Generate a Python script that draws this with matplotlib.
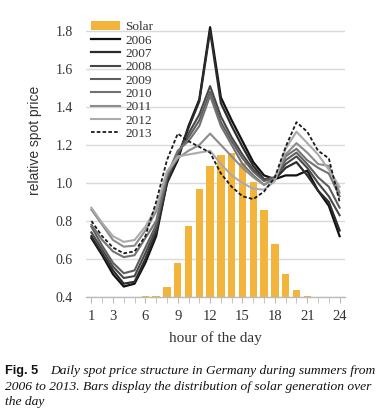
import matplotlib
matplotlib.use("Agg")
import matplotlib.pyplot as plt
from matplotlib.lines import Line2D
from matplotlib.patches import Patch

hours = list(range(1, 25))
base = 0.4
solar = [0.4, 0.4, 0.4, 0.4, 0.4, 0.403, 0.407, 0.454, 0.577, 0.775, 0.967, 1.089,
         1.147, 1.156, 1.107, 1.004, 0.858, 0.677, 0.521, 0.437, 0.403, 0.402, 0.401, 0.4]

p2006 = [0.71, 0.62, 0.52, 0.455, 0.47, 0.58, 0.72, 1.00, 1.12, 1.30, 1.44, 1.82,
         1.45, 1.33, 1.22, 1.11, 1.04, 1.02, 1.04, 1.04, 1.065, 0.96, 0.88, 0.72]
p2007 = [0.72, 0.63, 0.54, 0.47, 0.48, 0.60, 0.74, 1.00, 1.14, 1.29, 1.43, 1.80,
         1.42, 1.30, 1.19, 1.09, 1.02, 1.02, 1.08, 1.11, 1.04, 0.96, 0.90, 0.75]
p2008 = [0.74, 0.65, 0.56, 0.50, 0.51, 0.63, 0.76, 1.02, 1.15, 1.26, 1.36, 1.51,
         1.35, 1.24, 1.15, 1.07, 1.02, 1.03, 1.10, 1.14, 1.08, 1.00, 0.93, 0.83]
p2009 = [0.77, 0.67, 0.58, 0.525, 0.54, 0.66, 0.78, 1.03, 1.16, 1.24, 1.33, 1.48,
         1.32, 1.22, 1.13, 1.06, 1.01, 1.03, 1.12, 1.16, 1.10, 1.03, 0.98, 0.87]
p2010 = [0.78, 0.70, 0.64, 0.61, 0.62, 0.71, 0.80, 1.04, 1.17, 1.22, 1.30, 1.46,
         1.30, 1.20, 1.10, 1.04, 0.99, 1.03, 1.14, 1.18, 1.12, 1.08, 1.05, 0.93]
p2011 = [0.86, 0.78, 0.70, 0.665, 0.67, 0.75, 0.85, 1.05, 1.13, 1.17, 1.20, 1.26,
         1.20, 1.14, 1.08, 1.03, 0.99, 1.02, 1.15, 1.21, 1.16, 1.10, 1.09, 0.95]
p2012 = [0.87, 0.79, 0.72, 0.69, 0.70, 0.77, 0.87, 1.06, 1.14, 1.15, 1.16, 1.17,
         1.10, 1.04, 1.00, 0.97, 0.965, 1.01, 1.18, 1.27, 1.21, 1.15, 1.07, 0.98]
p2013 = [0.80, 0.72, 0.66, 0.63, 0.64, 0.72, 0.90, 1.12, 1.26, 1.22, 1.19, 1.16,
         1.05, 0.98, 0.93, 0.915, 0.955, 1.03, 1.19, 1.32, 1.27, 1.17, 1.13, 0.90]

years = ["2006", "2007", "2008", "2009", "2010", "2011", "2012", "2013"]
series = [p2006, p2007, p2008, p2009, p2010, p2011, p2012, p2013]
colors = ["#111111", "#2b2b2b", "#474747", "#5e5e5e", "#727272", "#8c8c8c", "#ababab", "#1a1a1a"]
styles = ["-"] * 7 + [(0, (2, 1.2))]
widths = [1.6, 1.6, 1.5, 1.5, 1.5, 1.5, 1.5, 1.3]

xticks = [1, 3, 6, 9, 12, 15, 18, 21, 24]
yticks = [0.4, 0.6, 0.8, 1.0, 1.2, 1.4, 1.6, 1.8]

caption_label = "Fig. 5"
caption_lines = ["Daily spot price structure in Germany during summers from",
                 "2006 to 2013. Bars display the distribution of solar generation over",
                 "the day"]

serif = "Liberation Serif"
sans = "Liberation Sans"
bar_color = "#F2B43A"
W, H = 382, 419

fig = plt.figure(figsize=(W / 100, H / 100), dpi=100)
ax = fig.add_axes([86 / W, 1 - 297 / H, 259 / W, 275.5 / H])

ax.bar(hours, [s - base for s in solar], bottom=base, width=0.68, color=bar_color, zorder=2)
for y, c, ls, lw in zip(series, colors, styles, widths):
    ax.plot(hours, y, color=c, linestyle=ls, linewidth=lw, zorder=3)

ax.set_xlim(0.5, 24.5)
ax.set_ylim(0.4, 1.85)
ax.set_yticks(yticks)
ax.set_yticklabels([f"{v:.1f}" for v in yticks], fontfamily=serif, fontsize=10, color="#333333")
ax.set_xticks(xticks)
ax.set_xticklabels([str(v) for v in xticks], fontfamily=serif, fontsize=10.5, color="#333333")
ax.set_xticks(hours, minor=True)
ax.tick_params(axis="y", length=0, pad=9.4)
ax.tick_params(axis="x", which="both", length=4, color="#bbbbbb", direction="out", pad=5)
ax.grid(axis="y", color="#d9d9d9", linewidth=1.0, zorder=0)
ax.set_axisbelow(True)
for s in ["top", "right", "left"]:
    ax.spines[s].set_visible(False)
ax.spines["bottom"].set_color("#bbbbbb")
ax.spines["bottom"].set_linewidth(1.0)

ax.set_xlabel("hour of the day", fontfamily=serif, fontsize=11, color="#333333", labelpad=6)
ax.set_ylabel("relative spot price", fontfamily=sans, fontsize=10, color="#333333")
ax.yaxis.label.set_va("center")
ax.yaxis.set_label_coords((35 - 86) / 259, (297 - 140) / 275.5)

handles = [Patch(facecolor=bar_color, edgecolor="none")]
for c, ls, lw in zip(colors, styles, widths):
    handles.append(Line2D([], [], color=c, linestyle=ls, linewidth=lw))
labels = ["Solar"] + years
leg = ax.legend(handles, labels, loc="upper left", bbox_to_anchor=(0.0, 1.02), frameon=False,
                prop={"family": serif, "size": 9.5}, handlelength=2.15, handleheight=0.6,
                labelspacing=0.1, handletextpad=0.45, borderaxespad=0.2, borderpad=0.2)
for t in leg.get_texts():
    t.set_color("#333333")

cap_kw = dict(fontfamily=serif, style="italic", fontsize=9.7, va="baseline", ha="left",
              color="#111111")
fig.text(5 / W, 1 - 374 / H, caption_label, fontfamily=sans, fontweight="bold", fontsize=9.2,
         va="baseline", color="#111111")
fig.text(50 / W, 1 - 374 / H, caption_lines[0], **cap_kw)
fig.text(5 / W, 1 - 389.5 / H, caption_lines[1], **cap_kw)
fig.text(5 / W, 1 - 405 / H, caption_lines[2], **cap_kw)

fig.savefig("out.png", dpi=100)
